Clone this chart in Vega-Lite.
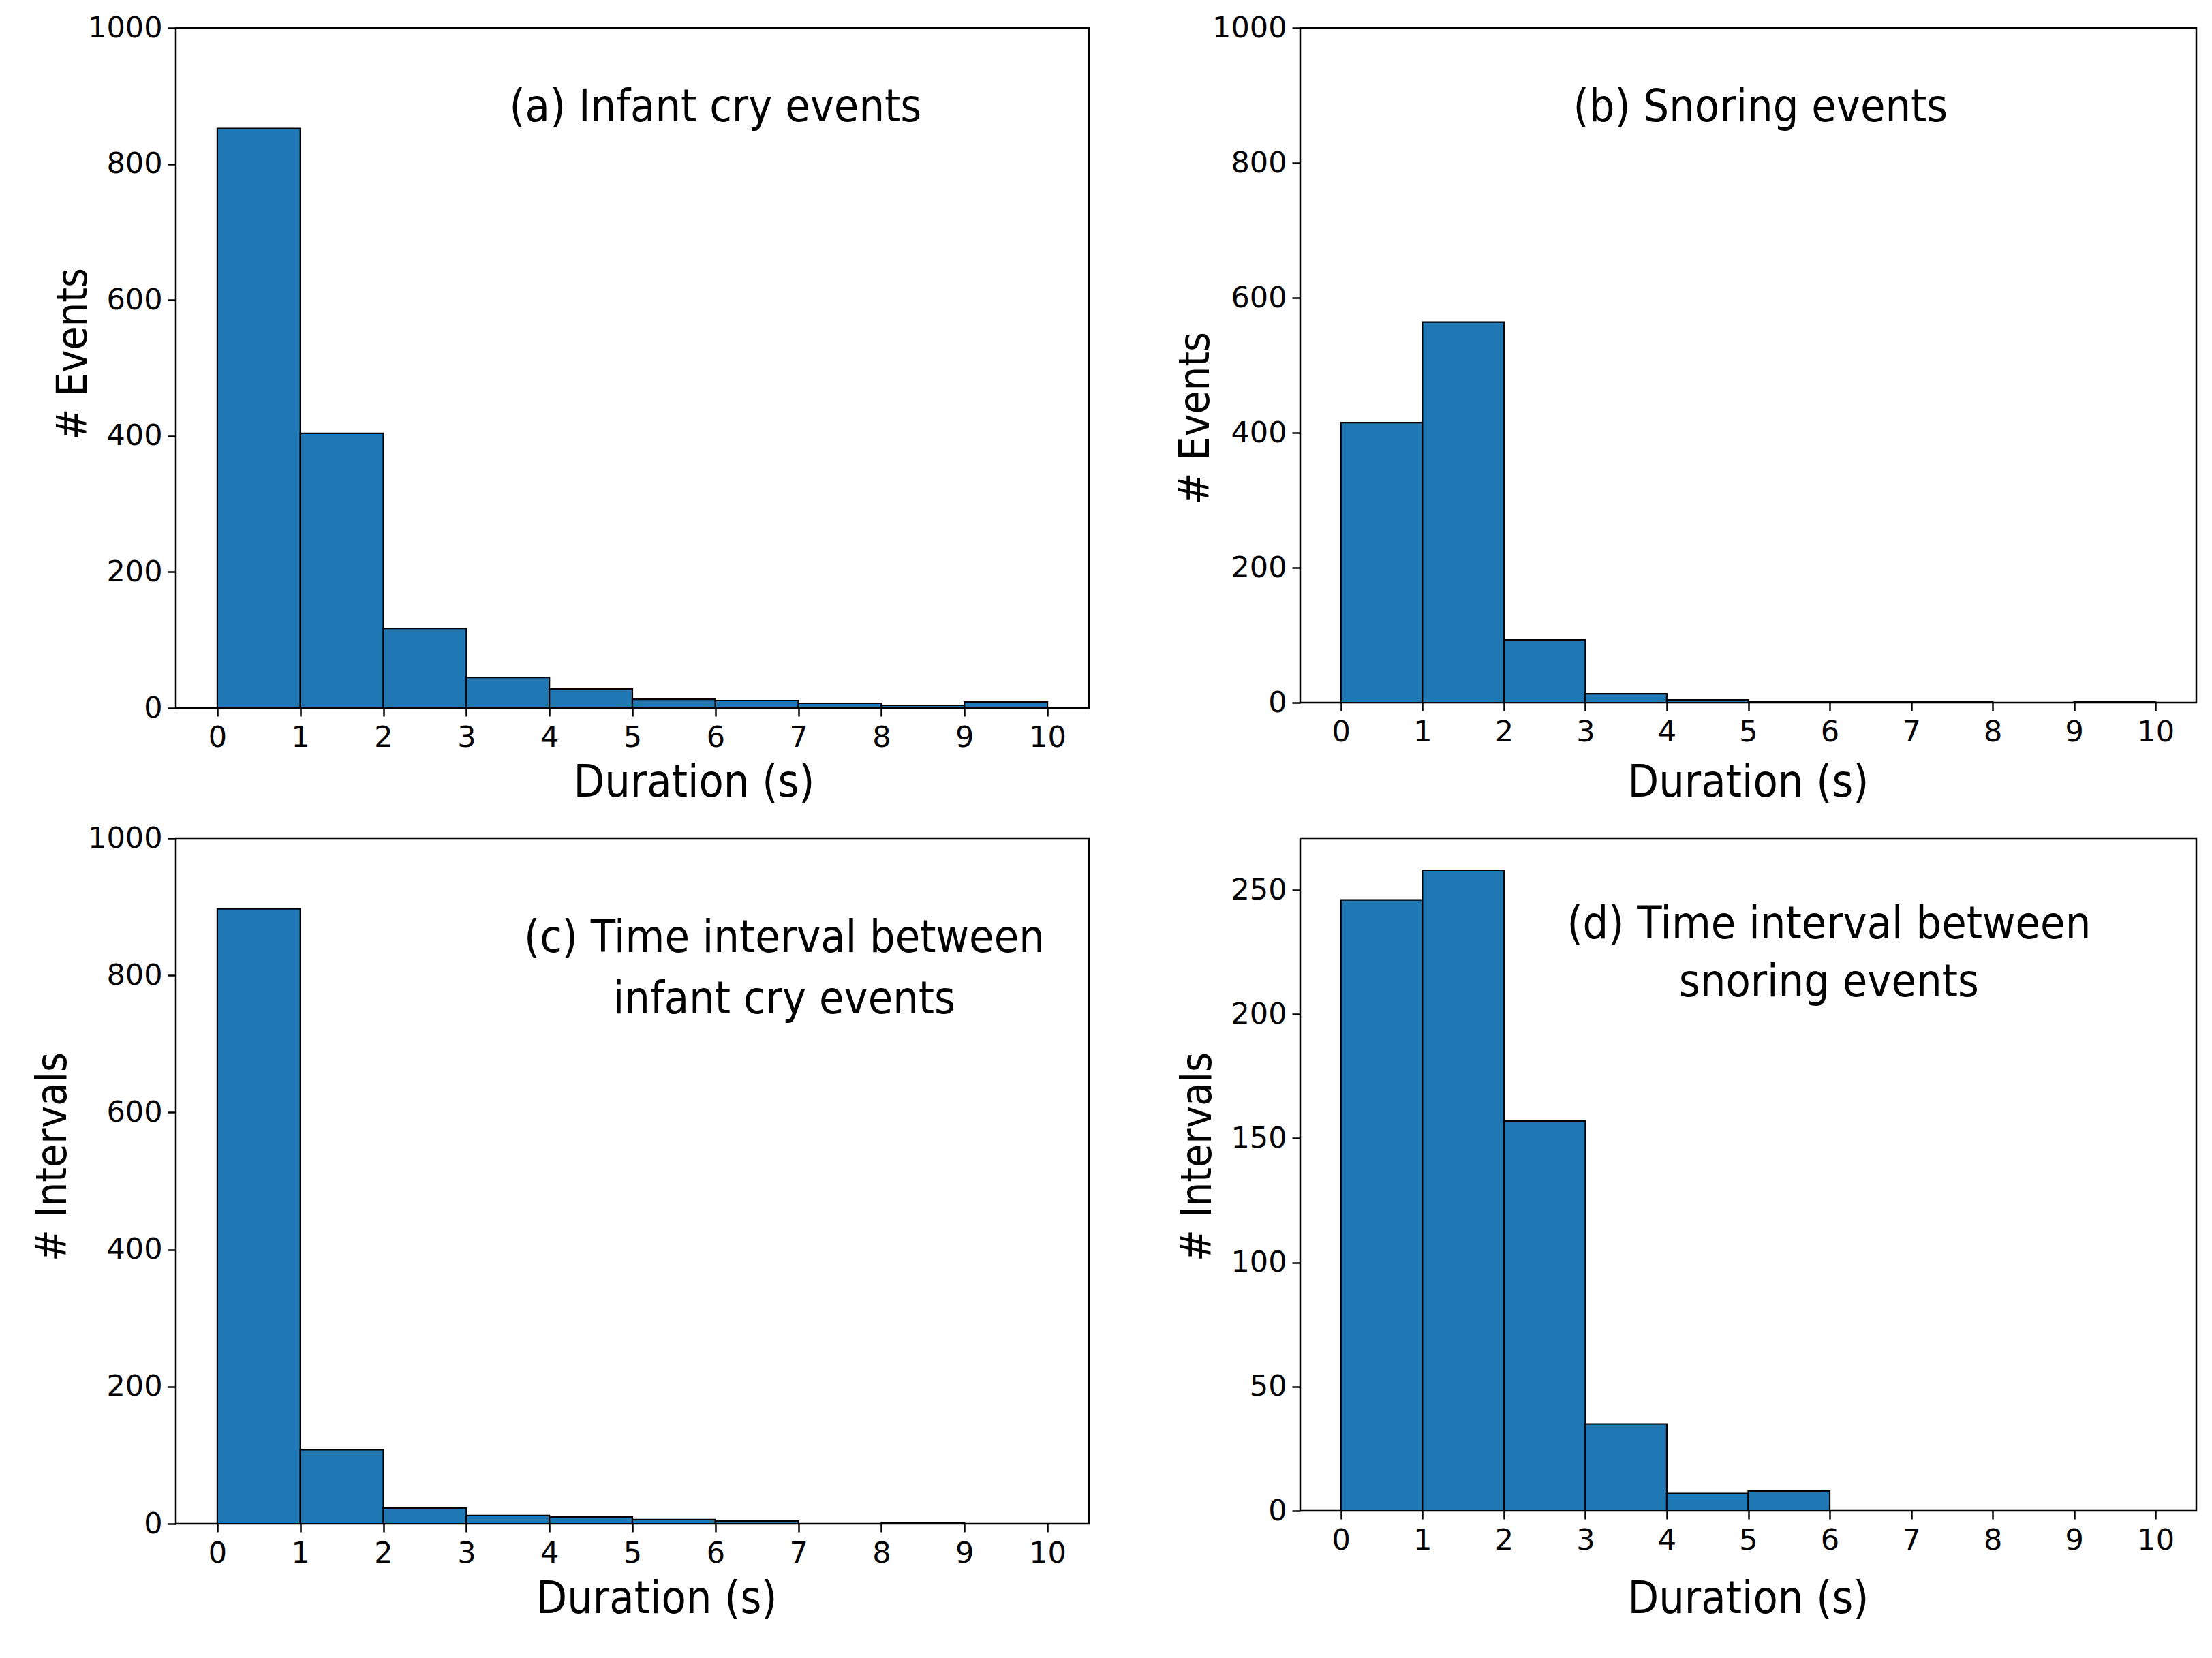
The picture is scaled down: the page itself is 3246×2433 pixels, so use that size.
{
  "$schema": "https://vega.github.io/schema/vega-lite/v6.json",
  "background": "white",
  "padding": {"left": 44, "top": 18, "right": 5, "bottom": 5},
  "bounds": "flush",
  "columns": 2,
  "spacing": {"column": 310, "row": 191},
  "datasets": {
    "a": [
      {"start": 0, "end": 1, "count": 852},
      {"start": 1, "end": 2, "count": 404},
      {"start": 2, "end": 3, "count": 117},
      {"start": 3, "end": 4, "count": 45},
      {"start": 4, "end": 5, "count": 28},
      {"start": 5, "end": 6, "count": 13},
      {"start": 6, "end": 7, "count": 11},
      {"start": 7, "end": 8, "count": 7},
      {"start": 8, "end": 9, "count": 4},
      {"start": 9, "end": 10, "count": 9}
    ],
    "b": [
      {"start": 0, "end": 1, "count": 415},
      {"start": 1, "end": 2, "count": 564},
      {"start": 2, "end": 3, "count": 93},
      {"start": 3, "end": 4, "count": 13},
      {"start": 4, "end": 5, "count": 4},
      {"start": 5, "end": 6, "count": 1},
      {"start": 6, "end": 7, "count": 1},
      {"start": 7, "end": 8, "count": 1},
      {"start": 8, "end": 9, "count": 0},
      {"start": 9, "end": 10, "count": 1}
    ],
    "c": [
      {"start": 0, "end": 1, "count": 897},
      {"start": 1, "end": 2, "count": 108},
      {"start": 2, "end": 3, "count": 23},
      {"start": 3, "end": 4, "count": 12},
      {"start": 4, "end": 5, "count": 10},
      {"start": 5, "end": 6, "count": 6},
      {"start": 6, "end": 7, "count": 4},
      {"start": 7, "end": 8, "count": 0},
      {"start": 8, "end": 9, "count": 2},
      {"start": 9, "end": 10, "count": 0}
    ],
    "d": [
      {"start": 0, "end": 1, "count": 246},
      {"start": 1, "end": 2, "count": 258},
      {"start": 2, "end": 3, "count": 157},
      {"start": 3, "end": 4, "count": 35},
      {"start": 4, "end": 5, "count": 7},
      {"start": 5, "end": 6, "count": 8},
      {"start": 6, "end": 7, "count": 0},
      {"start": 7, "end": 8, "count": 0},
      {"start": 8, "end": 9, "count": 0},
      {"start": 9, "end": 10, "count": 0}
    ],
    "ta": [{"x": 6.0, "y": 863, "label": "(a) Infant cry events"}],
    "tb": [{"x": 5.15, "y": 862, "label": "(b) Snoring events"}],
    "tc": [
      {"x": 6.83, "y": 834, "label": "(c)  Time interval between"},
      {"x": 6.83, "y": 745, "label": "infant cry events"}
    ],
    "td": [
      {"x": 5.99, "y": 230.5, "label": "(d)  Time interval between"},
      {"x": 5.99, "y": 207.2, "label": "snoring events"}
    ]
  },
  "concat": [
    {
      "width": 1340, "height": 998,
      "layer": [
        {
          "data": {"name": "a"},
          "mark": {"type": "bar", "fill": "#1f77b4", "stroke": "black", "strokeWidth": 2.2},
          "encoding": {
            "x": {"field": "start", "type": "quantitative", "scale": {"domain": [-0.5, 10.5], "nice": false, "zero": false},
                  "axis": {"title": "Duration (s)", "values": [0,1,2,3,4,5,6,7,8,9,10], "titleX": 760, "titleY": 129}},
            "x2": {"field": "end"},
            "y": {"field": "count", "type": "quantitative", "scale": {"domain": [0, 1000], "nice": false},
                  "axis": {"title": "# Events", "values": [0,200,400,600,800,1000], "titleX": -151, "titleY": 478}},
            "y2": {"datum": 0}
          }
        },
        {
          "data": {"name": "ta"},
          "mark": {"type": "text", "font": "DejaVu Sans Condensed, DejaVu Sans", "fontSize": 66, "align": "center", "baseline": "alphabetic", "color": "black"},
          "encoding": {
            "x": {"field": "x", "type": "quantitative", "title": "Duration (s)"},
            "y": {"field": "y", "type": "quantitative", "title": "# Events"},
            "text": {"field": "label"}
          }
        }
      ]
    },
    {
      "width": 1315, "height": 990,
      "layer": [
        {
          "data": {"name": "b"},
          "mark": {"type": "bar", "fill": "#1f77b4", "stroke": "black", "strokeWidth": 2.2},
          "encoding": {
            "x": {"field": "start", "type": "quantitative", "scale": {"domain": [-0.5, 10.5], "nice": false, "zero": false},
                  "axis": {"title": "Duration (s)", "values": [0,1,2,3,4,5,6,7,8,9,10], "titleX": 657, "titleY": 137}},
            "x2": {"field": "end"},
            "y": {"field": "count", "type": "quantitative", "scale": {"domain": [0, 1000], "nice": false},
                  "axis": {"title": "# Events", "values": [0,200,400,600,800,1000], "titleX": -154, "titleY": 572}},
            "y2": {"datum": 0}
          }
        },
        {
          "data": {"name": "tb"},
          "mark": {"type": "text", "font": "DejaVu Sans Condensed, DejaVu Sans", "fontSize": 66, "align": "center", "baseline": "alphabetic", "color": "black"},
          "encoding": {
            "x": {"field": "x", "type": "quantitative", "title": "Duration (s)"},
            "y": {"field": "y", "type": "quantitative", "title": "# Events"},
            "text": {"field": "label"}
          }
        }
      ]
    },
    {
      "width": 1340, "height": 1006,
      "layer": [
        {
          "data": {"name": "c"},
          "mark": {"type": "bar", "fill": "#1f77b4", "stroke": "black", "strokeWidth": 2.2},
          "encoding": {
            "x": {"field": "start", "type": "quantitative", "scale": {"domain": [-0.5, 10.5], "nice": false, "zero": false},
                  "axis": {"title": "Duration (s)", "values": [0,1,2,3,4,5,6,7,8,9,10], "titleX": 705, "titleY": 130}},
            "x2": {"field": "end"},
            "y": {"field": "count", "type": "quantitative", "scale": {"domain": [0, 1000], "nice": false},
                  "axis": {"title": "# Intervals", "values": [0,200,400,600,800,1000], "titleX": -181, "titleY": 467}},
            "y2": {"datum": 0}
          }
        },
        {
          "data": {"name": "tc"},
          "mark": {"type": "text", "font": "DejaVu Sans Condensed, DejaVu Sans", "fontSize": 66, "align": "center", "baseline": "alphabetic", "color": "black"},
          "encoding": {
            "x": {"field": "x", "type": "quantitative", "title": "Duration (s)"},
            "y": {"field": "y", "type": "quantitative", "title": "# Intervals"},
            "text": {"field": "label"}
          }
        }
      ]
    },
    {
      "width": 1315, "height": 987,
      "layer": [
        {
          "data": {"name": "d"},
          "mark": {"type": "bar", "fill": "#1f77b4", "stroke": "black", "strokeWidth": 2.2},
          "encoding": {
            "x": {"field": "start", "type": "quantitative", "scale": {"domain": [-0.5, 10.5], "nice": false, "zero": false},
                  "axis": {"title": "Duration (s)", "values": [0,1,2,3,4,5,6,7,8,9,10], "titleX": 657, "titleY": 149}},
            "x2": {"field": "end"},
            "y": {"field": "count", "type": "quantitative", "scale": {"domain": [0, 270.9], "nice": false},
                  "axis": {"title": "# Intervals", "values": [0,50,100,150,200,250], "titleX": -151, "titleY": 467}},
            "y2": {"datum": 0}
          }
        },
        {
          "data": {"name": "td"},
          "mark": {"type": "text", "font": "DejaVu Sans Condensed, DejaVu Sans", "fontSize": 66, "align": "center", "baseline": "alphabetic", "color": "black"},
          "encoding": {
            "x": {"field": "x", "type": "quantitative", "title": "Duration (s)"},
            "y": {"field": "y", "type": "quantitative", "title": "# Intervals"},
            "text": {"field": "label"}
          }
        }
      ]
    }
  ],
  "config": {
    "view": {"stroke": "black", "strokeWidth": 2.5},
    "axis": {
      "domain": false,
      "grid": false,
      "ticks": true,
      "tickColor": "black",
      "tickSize": 12,
      "tickWidth": 2.5,
      "format": "d",
      "labelFont": "DejaVu Sans",
      "labelFontSize": 43,
      "labelColor": "black",
      "labelFlush": false,
      "labelOverlap": false,
      "titleColor": "black",
      "titleFontWeight": "normal"
    },
    "axisX": {
      "labelPadding": 10,
      "titleFont": "DejaVu Sans Condensed, DejaVu Sans",
      "titleFontSize": 66,
      "titleBaseline": "alphabetic"
    },
    "axisY": {
      "labelPadding": 8,
      "titleFont": "DejaVu Sans Condensed, DejaVu Sans",
      "titleFontSize": 62,
      "titleBaseline": "middle"
    }
  }
}
